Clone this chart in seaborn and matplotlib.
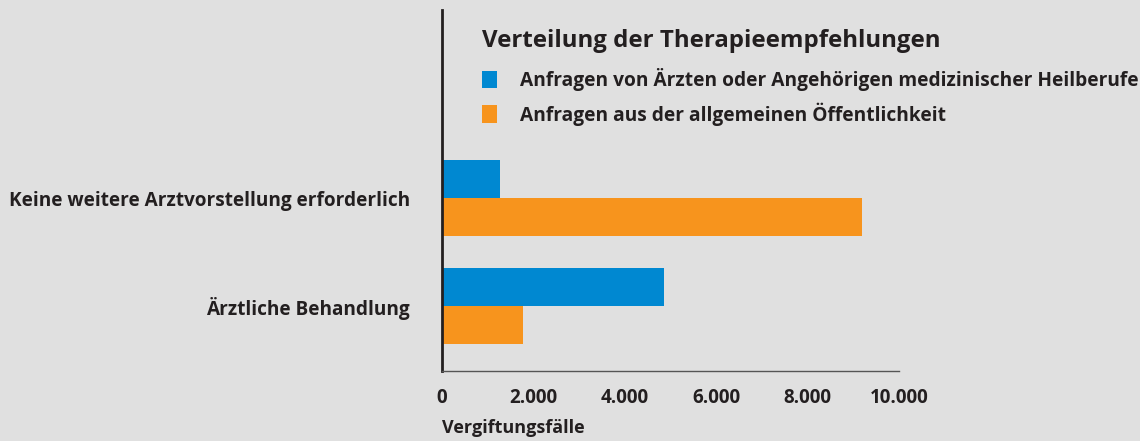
import pandas as pd
import seaborn as sb
import matplotlib.pyplot as plt
from matplotlib.ticker import FuncFormatter

kategorien = ["Keine weitere Arztvorstellung erforderlich", "Ärztliche Behandlung"]
gruppen = ["Anfragen von Ärzten oder Angehörigen medizinischer Heilberufe",
           "Anfragen aus der allgemeinen Öffentlichkeit"]
aerzte = [1260, 4850]         # blau
oeffentlichkeit = [9200, 1780]  # orange
x_ticks = [0, 2000, 4000, 6000, 8000, 10000]

df = pd.DataFrame({
    "Empfehlung": kategorien * 2,
    "Gruppe": [gruppen[0]] * 2 + [gruppen[1]] * 2,
    "Faelle": aerzte + oeffentlichkeit,
})

bg = "#e0e0e0"
txt = "#231f20"
sb.set_style("white")
plt.rcParams["font.family"] = ["Open Sans", "DejaVu Sans"]
plt.rcParams["font.weight"] = "bold"

fig = plt.figure(figsize=(11.4, 4.41), dpi=100, facecolor=bg)
ax = fig.add_axes([442 / 1140, 1 - 371 / 441, (899 - 442) / 1140, 361 / 441])
ax.set_facecolor(bg)

sb.barplot(data=df, y="Empfehlung", x="Faelle", hue="Gruppe", orient="h",
           palette=["#0088d1", "#f7941d"], width=0.7, saturation=1,
           linewidth=0, ax=ax)

ax.set_xlim(0, 10000)
ax.set_ylim(1.6, -1.74)
ax.set_xticks(x_ticks)
ax.xaxis.set_major_formatter(FuncFormatter(lambda v, p: f"{int(v):,}".replace(",", ".")))

for s in ["top", "right"]:
    ax.spines[s].set_visible(False)
ax.spines["left"].set_color(txt)
ax.spines["left"].set_linewidth(2)
ax.spines["bottom"].set_color("#555555")
ax.spines["bottom"].set_linewidth(1)
ax.spines["bottom"].set_bounds(0, 10000)

ax.tick_params(axis="x", length=8, width=1, color="#555555", pad=4,
               labelsize=13.5, labelcolor=txt)
ax.tick_params(axis="y", length=8, width=1, color="#555555", pad=15,
               labelsize=13.7, labelcolor=txt)
for lab in ax.get_xticklabels() + ax.get_yticklabels():
    lab.set_fontweight("bold")

ax.set_ylabel("")
ax.set_xlabel("Vergiftungsfälle", loc="left", fontsize=13, fontweight="bold",
              color=txt, labelpad=8)

fig.text(482 / 1140, 1 - 41 / 441, "Verteilung der Therapieempfehlungen",
         fontsize=17.3, fontweight="bold", color=txt, va="center", ha="left")

ax.legend(loc="upper left", bbox_to_anchor=(482 / 1140, 1 - 68 / 441),
          bbox_transform=fig.transFigure, frameon=False, borderpad=0,
          borderaxespad=0, handlelength=0.8, handleheight=1.05,
          handletextpad=1.2, labelspacing=0.6,
          prop={"weight": "bold", "size": 13.8}, labelcolor=txt)

fig.savefig("out.png", dpi=100, facecolor=bg)
